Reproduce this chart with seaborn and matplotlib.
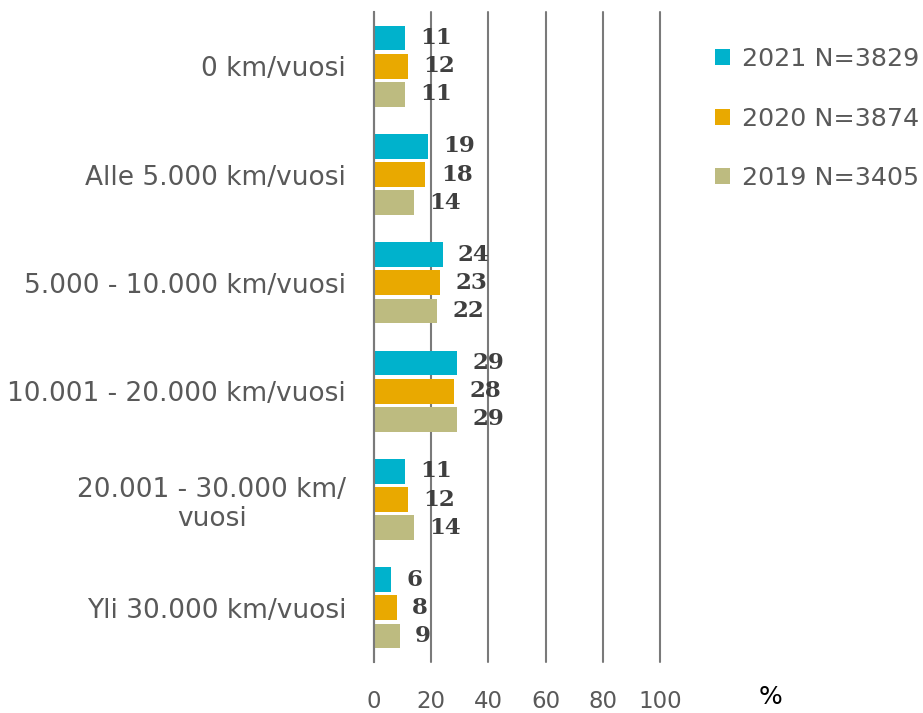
import matplotlib
matplotlib.use("Agg")
import matplotlib.pyplot as plt
import seaborn as sns
import pandas as pd
import numpy as np

categories = [
    "0 km/vuosi",
    "Alle 5.000 km/vuosi",
    "5.000 - 10.000 km/vuosi",
    "10.001 - 20.000 km/vuosi",
    "20.001 - 30.000 km/\nvuosi",
    "Yli 30.000 km/vuosi",
]
series_names = ["2021 N=3829", "2020 N=3874", "2019 N=3405"]
values_2021 = [11, 19, 24, 29, 11, 6]
values_2020 = [12, 18, 23, 28, 12, 8]
values_2019 = [11, 14, 22, 29, 14, 9]
colors = ["#00b2cc", "#e9a900", "#bdbb80"]
x_ticks = [0, 20, 40, 60, 80, 100]

df = pd.DataFrame({
    "category": categories * 3,
    "series": np.repeat(series_names, len(categories)),
    "value": values_2021 + values_2020 + values_2019,
})

sns.set_theme(style="white")
plt.rcParams["font.family"] = ["DejaVu Sans"]

fig = plt.figure(figsize=(9.23, 7.13), dpi=100)
ax = fig.add_axes([374 / 923, 1 - 662 / 713, 286 / 923, 650 / 713])

sns.barplot(
    data=df, y="category", x="value", hue="series", orient="h",
    order=categories, hue_order=series_names, palette=colors,
    saturation=1, width=0.78, gap=0.12, linewidth=0, ax=ax,
)

grid_col = "#7a7a7a"
text_col = "#595959"

for cont in ax.containers:
    ax.bar_label(cont, fmt="%d", padding=11, fontsize=16.5, fontweight="bold",
                 family="DejaVu Serif", color="#3f3f3f")

ax.set_xlim(0, 100)
ax.set_ylim(5.5, -0.5)
ax.set_xticks(x_ticks)
ax.set_xticklabels([str(t) for t in x_ticks])
ax.xaxis.grid(True, color=grid_col, linewidth=1.5)
for gl in ax.get_xgridlines():
    gl.set_clip_on(False)
ax.set_axisbelow(True)
ax.tick_params(axis="x", length=0, pad=20, labelsize=16.5, labelcolor=text_col)
ax.tick_params(axis="y", which="major", length=0, pad=20, labelsize=19, labelcolor=text_col)
ax.set_yticks(np.arange(-0.5, 6.0, 1.0), minor=True)
ax.tick_params(axis="y", which="minor", length=6, width=1.5, color=grid_col, direction="out")
for lbl in ax.get_yticklabels():
    lbl.set_multialignment("center")
ax.set_xlabel("")
ax.set_ylabel("")
for side in ["top", "right", "bottom"]:
    ax.spines[side].set_visible(False)
ax.spines["left"].set_color(grid_col)
ax.spines["left"].set_linewidth(1.5)

handles, labels = ax.get_legend_handles_labels()
ax.legend(handles, labels, loc="upper left", bbox_to_anchor=(705 / 923, 1 - 37 / 713),
          bbox_transform=fig.transFigure, frameon=False, fontsize=18.3,
          handlelength=0.6, handleheight=0.6, handletextpad=0.45,
          labelspacing=1.4, labelcolor=text_col, borderaxespad=0)

fig.text(770 / 923, 1 - 697 / 713, "%", ha="center", va="center", fontsize=18, color="black")

fig.savefig("out.png", dpi=100)
